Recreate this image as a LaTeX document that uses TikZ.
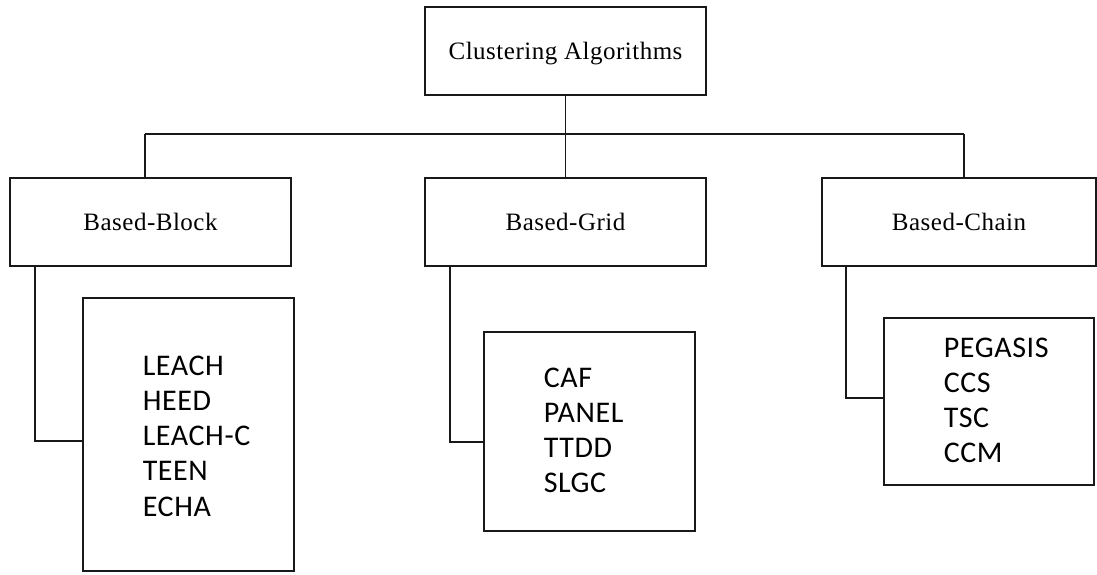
\documentclass[tikz,border=0pt]{standalone}
\usepackage{fontspec}
\setmainfont{Liberation Serif}[LetterSpace=2]
\newfontfamily\listfont{Carlito}[LetterSpace=2]
\begin{document}
\begin{tikzpicture}[x=1pt,y=-1pt,
  line width=1.6pt, draw=black!90,
  headbox/.style={draw, rectangle, minimum width=281pt, minimum height=88pt,
    inner sep=0pt, text height=17pt, text depth=0pt,
    font=\fontsize{25}{30}\selectfont},
  setbox/.style={draw, rectangle, inner sep=0pt},
  settext/.style={anchor=base west, inner sep=0pt, text width=150pt, align=left,
    font=\listfont\fontsize{30}{35.3}\selectfont},
  link/.style={draw, line width=1.6pt}]
\useasboundingbox (0,0) rectangle (1097,575);

% root and the three families
\node[headbox] (root)  at (565.5,51)  {Clustering Algorithms};
\node[headbox] (block) at (150.5,222) {Based-Block};
\node[headbox] (grid)  at (565.5,222) {Based-Grid};
\node[headbox, minimum width=274pt] (chain) at (959,222) {Based-Chain};

% member lists
\node[setbox, minimum width=211pt, minimum height=273pt] (blockset) at (188.5,434.5) {};
\node[setbox, minimum width=211pt, minimum height=199pt] (gridset)  at (589.5,431.5) {};
\node[setbox, minimum width=210pt, minimum height=167pt] (chainset) at (989,401.5) {};

\node[settext] (blocktext) at (142,375) {LEACH\\HEED\\LEACH-C\\TEEN\\ECHA};
\node[settext] (gridtext)  at (543,387) {CAF\\PANEL\\TTDD\\SLGC};
\node[settext] (chaintext) at (943,357) {PEGASIS\\CCS\\TSC\\CCM};

% tree links
\coordinate (barL) at (145,134);
\coordinate (barR) at (964,134);
\draw[link] (barL) -- (barR);
\draw[link] (barL) -- (barL |- block.north);
\draw[link] (barR) -- (barR |- chain.north);
\draw[link] (root.south) -- (grid.north);

% elbows from each family to its list
\coordinate (bj) at (35,441);
\coordinate (gj) at (450,442);
\coordinate (cj) at (846,398);
\draw[link] (bj |- block.south) -- (bj) -- (bj -| blockset.west);
\draw[link] (gj |- grid.south) -- (gj) -- (gj -| gridset.west);
\draw[link] (cj |- chain.south) -- (cj) -- (cj -| chainset.west);
\end{tikzpicture}
\end{document}
